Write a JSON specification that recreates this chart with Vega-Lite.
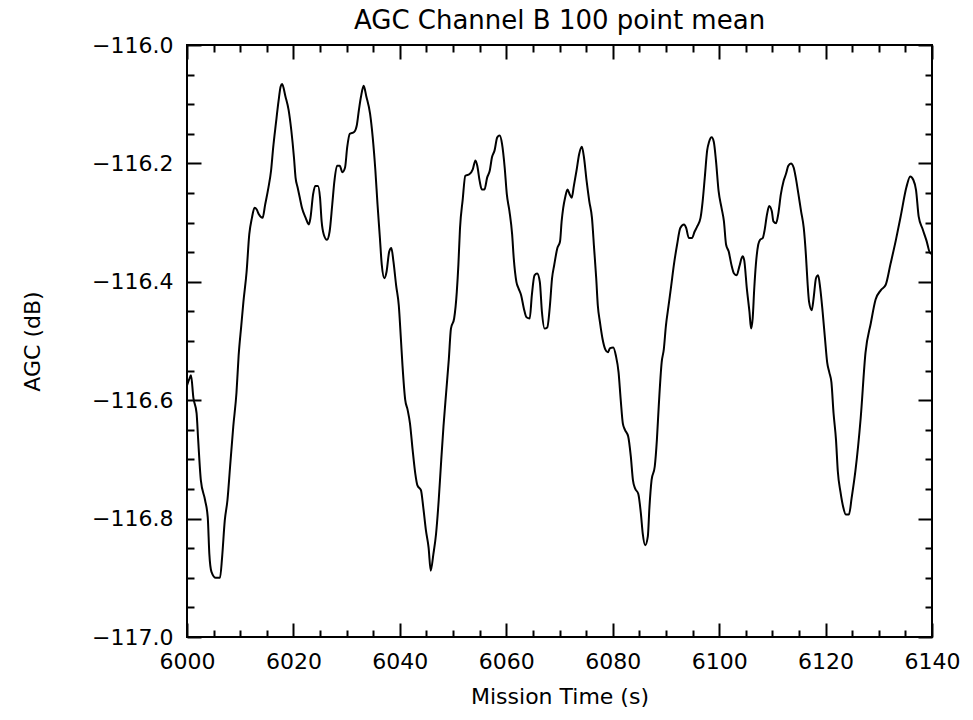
{
  "$schema": "https://vega.github.io/schema/vega-lite/v6.json",
  "width": 745,
  "height": 592,
  "autosize": "none",
  "padding": {"left": 187, "top": 45, "right": 41, "bottom": 83},
  "background": "white",
  "config": {"view": {"stroke": "black", "strokeWidth": 2}, "font": "DejaVu Sans"},
  "title": {"text": "AGC Channel B 100 point mean", "fontSize": 26, "fontWeight": "normal", "color": "black", "offset": 0},
  "data": {"values": [
    {"t": 6000.0, "v": -116.575}, {"t": 6000.4, "v": -116.565}, {"t": 6000.75, "v": -116.558}, {"t": 6001.2, "v": -116.596},
    {"t": 6001.8, "v": -116.622}, {"t": 6002.1, "v": -116.667}, {"t": 6002.6, "v": -116.735}, {"t": 6003.4, "v": -116.769},
    {"t": 6003.9, "v": -116.798}, {"t": 6004.2, "v": -116.86}, {"t": 6004.6, "v": -116.89}, {"t": 6005.4, "v": -116.9},
    {"t": 6006.2, "v": -116.9}, {"t": 6006.6, "v": -116.865}, {"t": 6007.1, "v": -116.803}, {"t": 6007.6, "v": -116.769},
    {"t": 6008.1, "v": -116.712}, {"t": 6008.7, "v": -116.644}, {"t": 6009.3, "v": -116.587}, {"t": 6009.7, "v": -116.525},
    {"t": 6010.2, "v": -116.474}, {"t": 6010.6, "v": -116.434}, {"t": 6011.2, "v": -116.383}, {"t": 6011.7, "v": -116.32},
    {"t": 6012.2, "v": -116.292}, {"t": 6012.7, "v": -116.275}, {"t": 6013.1, "v": -116.278}, {"t": 6013.5, "v": -116.286},
    {"t": 6014.2, "v": -116.292}, {"t": 6014.7, "v": -116.269}, {"t": 6015.3, "v": -116.241}, {"t": 6015.8, "v": -116.212},
    {"t": 6016.2, "v": -116.173}, {"t": 6016.7, "v": -116.133}, {"t": 6017.2, "v": -116.095}, {"t": 6017.6, "v": -116.07},
    {"t": 6017.87, "v": -116.066}, {"t": 6018.5, "v": -116.087}, {"t": 6019.1, "v": -116.11}, {"t": 6019.6, "v": -116.144},
    {"t": 6020.1, "v": -116.19}, {"t": 6020.4, "v": -116.224}, {"t": 6020.8, "v": -116.241}, {"t": 6021.2, "v": -116.258},
    {"t": 6021.6, "v": -116.275}, {"t": 6022.3, "v": -116.292}, {"t": 6022.9, "v": -116.303}, {"t": 6023.2, "v": -116.292},
    {"t": 6023.7, "v": -116.252}, {"t": 6024.1, "v": -116.238}, {"t": 6024.6, "v": -116.238}, {"t": 6025.0, "v": -116.258},
    {"t": 6025.3, "v": -116.298}, {"t": 6025.7, "v": -116.32}, {"t": 6026.3, "v": -116.329}, {"t": 6026.8, "v": -116.315},
    {"t": 6027.3, "v": -116.269}, {"t": 6027.7, "v": -116.23}, {"t": 6028.2, "v": -116.204}, {"t": 6028.7, "v": -116.204},
    {"t": 6029.2, "v": -116.215}, {"t": 6029.7, "v": -116.207}, {"t": 6030.1, "v": -116.173}, {"t": 6030.6, "v": -116.15},
    {"t": 6031.4, "v": -116.147}, {"t": 6031.9, "v": -116.136}, {"t": 6032.3, "v": -116.11}, {"t": 6032.7, "v": -116.087},
    {"t": 6033.2, "v": -116.069}, {"t": 6033.7, "v": -116.087}, {"t": 6034.4, "v": -116.116}, {"t": 6034.9, "v": -116.156},
    {"t": 6035.4, "v": -116.212}, {"t": 6035.8, "v": -116.269}, {"t": 6036.25, "v": -116.326}, {"t": 6036.6, "v": -116.371},
    {"t": 6037.1, "v": -116.394}, {"t": 6037.5, "v": -116.383}, {"t": 6038.0, "v": -116.349}, {"t": 6038.4, "v": -116.343},
    {"t": 6038.8, "v": -116.366}, {"t": 6039.3, "v": -116.406}, {"t": 6039.8, "v": -116.44}, {"t": 6040.2, "v": -116.497},
    {"t": 6040.5, "v": -116.542}, {"t": 6041.0, "v": -116.599}, {"t": 6041.45, "v": -116.616}, {"t": 6041.9, "v": -116.639},
    {"t": 6042.4, "v": -116.684}, {"t": 6042.9, "v": -116.724}, {"t": 6043.3, "v": -116.744}, {"t": 6043.96, "v": -116.752},
    {"t": 6044.4, "v": -116.781}, {"t": 6044.9, "v": -116.82}, {"t": 6045.4, "v": -116.849}, {"t": 6045.8, "v": -116.888},
    {"t": 6046.3, "v": -116.86}, {"t": 6046.8, "v": -116.826}, {"t": 6047.3, "v": -116.769}, {"t": 6047.7, "v": -116.712},
    {"t": 6048.2, "v": -116.644}, {"t": 6048.7, "v": -116.587}, {"t": 6049.2, "v": -116.531}, {"t": 6049.6, "v": -116.479},
    {"t": 6050.2, "v": -116.462}, {"t": 6050.7, "v": -116.417}, {"t": 6051.0, "v": -116.371}, {"t": 6051.3, "v": -116.31},
    {"t": 6051.8, "v": -116.262}, {"t": 6052.3, "v": -116.221}, {"t": 6053.1, "v": -116.218}, {"t": 6053.7, "v": -116.21},
    {"t": 6054.2, "v": -116.195}, {"t": 6054.55, "v": -116.204}, {"t": 6055.0, "v": -116.23}, {"t": 6055.4, "v": -116.244},
    {"t": 6055.9, "v": -116.244}, {"t": 6056.4, "v": -116.224}, {"t": 6056.9, "v": -116.212}, {"t": 6057.3, "v": -116.19},
    {"t": 6057.8, "v": -116.178}, {"t": 6058.3, "v": -116.156}, {"t": 6058.75, "v": -116.153}, {"t": 6059.2, "v": -116.167},
    {"t": 6059.7, "v": -116.207}, {"t": 6060.1, "v": -116.252}, {"t": 6060.6, "v": -116.281}, {"t": 6061.1, "v": -116.32},
    {"t": 6061.4, "v": -116.36}, {"t": 6061.9, "v": -116.4}, {"t": 6062.3, "v": -116.411}, {"t": 6062.8, "v": -116.423},
    {"t": 6063.3, "v": -116.445}, {"t": 6063.8, "v": -116.46}, {"t": 6064.4, "v": -116.462}, {"t": 6064.8, "v": -116.423},
    {"t": 6065.3, "v": -116.389}, {"t": 6065.8, "v": -116.386}, {"t": 6066.3, "v": -116.4}, {"t": 6066.7, "v": -116.451},
    {"t": 6067.2, "v": -116.479}, {"t": 6067.7, "v": -116.477}, {"t": 6068.2, "v": -116.44}, {"t": 6068.6, "v": -116.394},
    {"t": 6069.0, "v": -116.372}, {"t": 6069.6, "v": -116.343}, {"t": 6070.1, "v": -116.332}, {"t": 6070.4, "v": -116.298},
    {"t": 6070.7, "v": -116.275}, {"t": 6071.05, "v": -116.258}, {"t": 6071.5, "v": -116.244}, {"t": 6071.9, "v": -116.252},
    {"t": 6072.3, "v": -116.258}, {"t": 6072.7, "v": -116.238}, {"t": 6073.2, "v": -116.212}, {"t": 6073.7, "v": -116.184},
    {"t": 6074.2, "v": -116.172}, {"t": 6074.6, "v": -116.19}, {"t": 6075.1, "v": -116.23}, {"t": 6075.6, "v": -116.264},
    {"t": 6076.1, "v": -116.292}, {"t": 6076.5, "v": -116.343}, {"t": 6076.9, "v": -116.394}, {"t": 6077.2, "v": -116.44},
    {"t": 6077.6, "v": -116.468}, {"t": 6078.1, "v": -116.497}, {"t": 6078.6, "v": -116.514}, {"t": 6079.1, "v": -116.519},
    {"t": 6079.5, "v": -116.512}, {"t": 6080.1, "v": -116.511}, {"t": 6080.6, "v": -116.525}, {"t": 6081.1, "v": -116.553},
    {"t": 6081.5, "v": -116.599}, {"t": 6081.9, "v": -116.639}, {"t": 6082.3, "v": -116.65}, {"t": 6082.9, "v": -116.661},
    {"t": 6083.4, "v": -116.695}, {"t": 6083.8, "v": -116.735}, {"t": 6084.2, "v": -116.749}, {"t": 6084.8, "v": -116.758},
    {"t": 6085.3, "v": -116.792}, {"t": 6085.65, "v": -116.826}, {"t": 6086.1, "v": -116.845}, {"t": 6086.6, "v": -116.83},
    {"t": 6086.9, "v": -116.781}, {"t": 6087.3, "v": -116.735}, {"t": 6087.9, "v": -116.712}, {"t": 6088.3, "v": -116.667},
    {"t": 6088.65, "v": -116.61}, {"t": 6089.2, "v": -116.536}, {"t": 6089.6, "v": -116.514}, {"t": 6090.0, "v": -116.474},
    {"t": 6090.5, "v": -116.44}, {"t": 6091.0, "v": -116.406}, {"t": 6091.5, "v": -116.371}, {"t": 6092.1, "v": -116.337},
    {"t": 6092.7, "v": -116.309}, {"t": 6093.4, "v": -116.303}, {"t": 6093.8, "v": -116.309}, {"t": 6094.3, "v": -116.326},
    {"t": 6094.9, "v": -116.326}, {"t": 6095.4, "v": -116.315}, {"t": 6095.9, "v": -116.306}, {"t": 6096.5, "v": -116.292},
    {"t": 6096.9, "v": -116.264}, {"t": 6097.3, "v": -116.224}, {"t": 6097.75, "v": -116.178}, {"t": 6098.1, "v": -116.164},
    {"t": 6098.6, "v": -116.156}, {"t": 6099.0, "v": -116.164}, {"t": 6099.4, "v": -116.195}, {"t": 6099.9, "v": -116.247},
    {"t": 6100.45, "v": -116.275}, {"t": 6100.9, "v": -116.298}, {"t": 6101.3, "v": -116.337}, {"t": 6101.8, "v": -116.349},
    {"t": 6102.3, "v": -116.371}, {"t": 6102.8, "v": -116.386}, {"t": 6103.3, "v": -116.389}, {"t": 6103.8, "v": -116.374},
    {"t": 6104.4, "v": -116.357}, {"t": 6104.7, "v": -116.363}, {"t": 6105.2, "v": -116.411}, {"t": 6105.7, "v": -116.451},
    {"t": 6106.0, "v": -116.479}, {"t": 6106.3, "v": -116.462}, {"t": 6106.6, "v": -116.411}, {"t": 6106.9, "v": -116.371},
    {"t": 6107.35, "v": -116.337}, {"t": 6107.7, "v": -116.329}, {"t": 6108.2, "v": -116.326}, {"t": 6108.5, "v": -116.315},
    {"t": 6109.0, "v": -116.286}, {"t": 6109.4, "v": -116.272}, {"t": 6109.9, "v": -116.281}, {"t": 6110.2, "v": -116.298},
    {"t": 6110.7, "v": -116.301}, {"t": 6111.1, "v": -116.286}, {"t": 6111.6, "v": -116.252}, {"t": 6112.1, "v": -116.23},
    {"t": 6112.55, "v": -116.218}, {"t": 6113.0, "v": -116.204}, {"t": 6113.5, "v": -116.2}, {"t": 6114.0, "v": -116.207},
    {"t": 6114.4, "v": -116.224}, {"t": 6114.9, "v": -116.252}, {"t": 6115.4, "v": -116.281}, {"t": 6115.9, "v": -116.309},
    {"t": 6116.3, "v": -116.354}, {"t": 6116.6, "v": -116.4}, {"t": 6116.9, "v": -116.434}, {"t": 6117.4, "v": -116.448},
    {"t": 6117.75, "v": -116.428}, {"t": 6118.2, "v": -116.394}, {"t": 6118.6, "v": -116.389}, {"t": 6119.0, "v": -116.411},
    {"t": 6119.45, "v": -116.451}, {"t": 6119.9, "v": -116.497}, {"t": 6120.3, "v": -116.536}, {"t": 6120.7, "v": -116.553},
    {"t": 6121.1, "v": -116.57}, {"t": 6121.5, "v": -116.622}, {"t": 6121.96, "v": -116.667}, {"t": 6122.3, "v": -116.72},
    {"t": 6122.8, "v": -116.755}, {"t": 6123.3, "v": -116.78}, {"t": 6123.8, "v": -116.793}, {"t": 6124.4, "v": -116.793},
    {"t": 6124.9, "v": -116.765}, {"t": 6125.6, "v": -116.72}, {"t": 6126.6, "v": -116.63}, {"t": 6127.5, "v": -116.52},
    {"t": 6128.5, "v": -116.47}, {"t": 6129.4, "v": -116.43}, {"t": 6130.4, "v": -116.414}, {"t": 6131.3, "v": -116.405},
    {"t": 6132.2, "v": -116.37}, {"t": 6133.2, "v": -116.33}, {"t": 6134.1, "v": -116.29}, {"t": 6135.2, "v": -116.24},
    {"t": 6135.9, "v": -116.222}, {"t": 6136.5, "v": -116.228}, {"t": 6137.0, "v": -116.245}, {"t": 6137.5, "v": -116.29},
    {"t": 6138.2, "v": -116.31}, {"t": 6138.95, "v": -116.33}, {"t": 6139.7, "v": -116.352}, {"t": 6140.0, "v": -116.352}
  ]},
  "layer": [
    {
      "mark": {"type": "line", "color": "black", "strokeWidth": 2, "clip": true, "interpolate": "monotone"},
      "encoding": {
        "x": {
          "field": "t", "type": "quantitative",
          "scale": {"domain": [6000, 6140], "nice": false, "zero": false},
          "axis": {
            "orient": "bottom",
            "values": [6000, 6020, 6040, 6060, 6080, 6100, 6120, 6140],
            "format": "d",
            "tickSize": -14,
            "grid": false, "domain": false,
            "tickColor": "black", "tickWidth": 2,
            "labelFontSize": 22, "labelColor": "black", "labelPadding": 28,
            "labelOverlap": false, "labelFlush": false, "labelBound": false,
            "title": "Mission Time (s)", "titleFontSize": 22, "titleFontWeight": "normal", "titleColor": "black",
            "titleBaseline": "alphabetic", "titleX": 372.5, "titleY": 66
          }
        },
        "y": {
          "field": "v", "type": "quantitative",
          "scale": {"domain": [-117, -116], "nice": false, "zero": false},
          "axis": {
            "orient": "left",
            "values": [-117, -116.8, -116.6, -116.4, -116.2, -116],
            "format": ".1f",
            "tickSize": -14,
            "grid": false, "domain": false,
            "tickColor": "black", "tickWidth": 2,
            "labelFontSize": 22, "labelColor": "black", "labelPadding": 28,
            "labelOverlap": false, "labelFlush": false, "labelBound": false,
            "title": "AGC (dB)", "titleFontSize": 22, "titleFontWeight": "normal", "titleColor": "black",
            "titleBaseline": "middle", "titleX": -155, "titleY": 296, "titleAngle": 270
          }
        }
      }
    },
    {
      "mark": {"type": "line", "strokeOpacity": 0},
      "encoding": {
        "x": {
          "field": "t", "type": "quantitative",
          "axis": {
            "orient": "bottom",
            "values": [6005, 6010, 6015, 6025, 6030, 6035, 6045, 6050, 6055, 6065, 6070, 6075, 6085, 6090, 6095, 6105, 6110, 6115, 6125, 6130, 6135],
            "tickSize": -7, "labels": false, "title": null, "grid": false, "domain": false,
            "tickColor": "black", "tickWidth": 2
          }
        },
        "y": {
          "field": "v", "type": "quantitative",
          "axis": {
            "orient": "left",
            "values": [-116.95, -116.9, -116.85, -116.75, -116.7, -116.65, -116.55, -116.5, -116.45, -116.35, -116.3, -116.25, -116.15, -116.1, -116.05],
            "tickSize": -7, "labels": false, "title": null, "grid": false, "domain": false,
            "tickColor": "black", "tickWidth": 2
          }
        }
      }
    },
    {
      "mark": {"type": "line", "strokeOpacity": 0},
      "encoding": {
        "x": {
          "field": "t", "type": "quantitative",
          "axis": {
            "orient": "top",
            "values": [6000, 6020, 6040, 6060, 6080, 6100, 6120, 6140],
            "tickSize": -14, "labels": false, "title": null, "grid": false, "domain": false,
            "tickColor": "black", "tickWidth": 2
          }
        },
        "y": {
          "field": "v", "type": "quantitative",
          "axis": {
            "orient": "right",
            "values": [-117, -116.8, -116.6, -116.4, -116.2, -116],
            "tickSize": -14, "labels": false, "title": null, "grid": false, "domain": false,
            "tickColor": "black", "tickWidth": 2
          }
        }
      }
    },
    {
      "mark": {"type": "line", "strokeOpacity": 0},
      "encoding": {
        "x": {
          "field": "t", "type": "quantitative",
          "axis": {
            "orient": "top",
            "values": [6005, 6010, 6015, 6025, 6030, 6035, 6045, 6050, 6055, 6065, 6070, 6075, 6085, 6090, 6095, 6105, 6110, 6115, 6125, 6130, 6135],
            "tickSize": -7, "labels": false, "title": null, "grid": false, "domain": false,
            "tickColor": "black", "tickWidth": 2
          }
        },
        "y": {
          "field": "v", "type": "quantitative",
          "axis": {
            "orient": "right",
            "values": [-116.95, -116.9, -116.85, -116.75, -116.7, -116.65, -116.55, -116.5, -116.45, -116.35, -116.3, -116.25, -116.15, -116.1, -116.05],
            "tickSize": -7, "labels": false, "title": null, "grid": false, "domain": false,
            "tickColor": "black", "tickWidth": 2
          }
        }
      }
    }
  ],
  "resolve": {"axis": {"x": "independent", "y": "independent"}}
}
